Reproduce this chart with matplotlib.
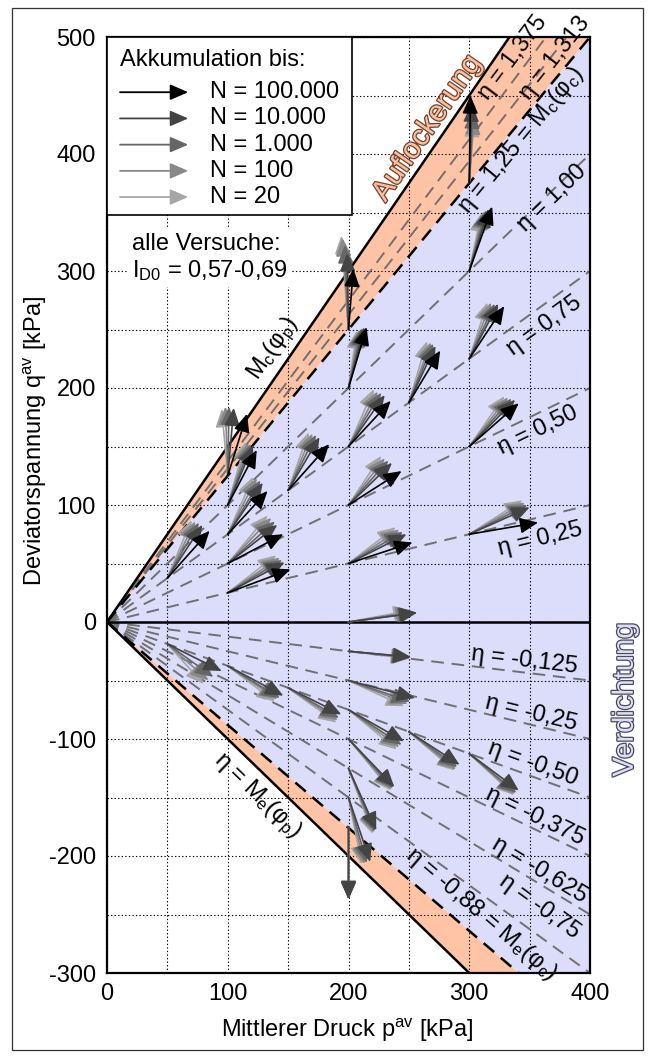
import numpy as np
import matplotlib
matplotlib.use('Agg')
import matplotlib.pyplot as plt
from matplotlib.patches import FancyArrowPatch, Rectangle
from matplotlib.ticker import MultipleLocator
import matplotlib.patheffects as pe

plt.rcParams['font.family'] = ['Liberation Sans', 'DejaVu Sans']
plt.rcParams['mathtext.fontset'] = 'custom'
plt.rcParams['mathtext.rm'] = 'Liberation Sans'
plt.rcParams['mathtext.it'] = 'Liberation Sans:italic'
plt.rcParams['mathtext.bf'] = 'Liberation Sans:bold'
plt.rcParams['axes.unicode_minus'] = False

# ---------------- data ----------------
eta_Mc_phip = 1.5      # solid upper limit
eta_Mc_phic = 1.25     # black dashed
eta_Me_phic = -0.88    # black dashed
eta_Me_phip = -1.0     # solid lower limit
eta_dashed = [1.375, 1.313, 1.0, 0.75, 0.5, 0.25,
              -0.125, -0.25, -0.375, -0.5, -0.625, -0.75]

# start points of accumulation arrows (p_av, q_av)
start_p = [50, 100, 100, 100, 100, 100, 150, 200, 200, 200, 200, 200, 200, 250, 300, 300, 300, 300, 300,
           50, 100, 150, 200, 250, 300, 200, 200, 200, 200, 200, 200]
start_q = [37.5, 25, 50, 75, 100, 125, 112.5, 0, 50, 100, 150, 200, 250, 187.5, 75, 150, 225, 300, 375,
           -18.75, -37.5, -56.25, -75, -93.75, -112.5, -25, -50, -100, -125, -150, -175]

nan = np.nan
# arrow end points for N = 20
end_p_N20 = [70, 140, 133, 121, 115, 95, 167, 252, 239, 227, 221, 207, 194, 265, 344, 329, 315, 310, 303,
             80, 139, 190, 240, 288, 337, 250, 246, 235, 220, 211, 200]
end_q_N20 = [87, 57, 91, 124, 154, 182, 162, 10, 81, 142, 199, 249, 330, 240, 104, 193, 273, 349, 430,
             -53, -68, -86, -109, -127, -148, -31, -72, -144, -181, -207, -236]
# N = 100
end_p_N100 = [73, 143, 136, 124, 117, 98, 170, 254, 242, 230, 224, 209, 195, 268, 346, 332, 318, 312, 304,
              84, 141, 191, 242, 289, 338, 251, 249, 236, 221, 213, 200]
end_q_N100 = [86, 55, 89, 123, 153, 184, 161, 9, 79, 140, 197, 250, 328, 239, 102, 192, 273, 351, 432,
              -50, -66, -84, -107, -126, -147, -31, -70, -143, -180, -207, -237]
# N = 1.000
end_p_N1000 = [76, 145, 139, 127, 119, 101, 173, 256, 245, 233, 227, 211, 197, 270, 348, 335, 321, 314, 303,
               88, 143, 192, 244, 290, 339, 251, 251, 237, 222, 215, 200]
end_q_N1000 = [85, 53, 86, 121, 152, 184, 160, 8, 77, 138, 196, 251, 322, 238, 100, 191, 272, 352, 437,
               -47, -65, -82, -105, -124, -146, -30, -68, -142, -179, -206, -237]
# N = 10.000
end_p_N10000 = [79, 147, 141, 129, 121, 105, 176, 257, 248, 236, 230, 213, 199, 272, 350, 338, 324, 316, 302,
                95, 146, 194, 246, 292, 341, 252, 255, 238, 223, 218, 200]
end_q_N10000 = [83, 51, 83, 119, 151, 183, 158, 8, 75, 136, 194, 252, 315, 236, 98, 190, 272, 353, 443,
                -42, -63, -79, -102, -122, -144, -30, -65, -141, -178, -205, -237]
# N = 100.000 (only reached in part of the tests)
end_p_N100000 = [85, 152, 146, 133, 124, 116, 184, nan, 253, 244, 235, 215, 204, 276, 357, 341, 329, 319, 301,
                 nan, nan, nan, nan, nan, nan, nan, nan, nan, nan, nan, nan]
end_q_N100000 = [78, 45, 75, 112, 147, 178, 152, nan, 68, 129, 189, 252, 302, 232, 85, 187, 270, 355, 450,
                 nan, nan, nan, nan, nan, nan, nan, nan, nan, nan, nan, nan]

N_labels = ['N = 100.000', 'N = 10.000', 'N = 1.000', 'N = 100', 'N = 20']

x_ticks = [0, 100, 200, 300, 400]
y_ticks = [-300, -200, -100, 0, 100, 200, 300, 400, 500]

# line annotations (text, slope of line used for rotation)
eta_texts = ['η = 1,375', 'η = 1,313', 'η = 1,25 = M$_{\\rm c}$(φ$_{\\rm c}$)', 'η = 1,00',
             'η = 0,75', 'η = 0,50', 'η = 0,25', 'M$_{\\rm c}$(φ$_{\\rm p}$)',
             'η = -0,125', 'η = -0,25', 'η = -0,50', 'η = -0,375', 'η = -0,625', 'η = -0,75',
             'η = -0,88 = M$_{\\rm e}$(φ$_{\\rm c}$)', 'η = M$_{\\rm e}$(φ$_{\\rm p}$)']
eta_text_slope = [1.375, 1.313, 1.25, 1.0, 0.75, 0.5, 0.25, 1.5,
                  -0.125, -0.25, -0.375, -0.5, -0.625, -0.75, -0.88, -1.0]
eta_text_p = [336, 371, 343, 369, 362, 357, 359, 138, 346, 351, 353, 354, 358, 358, 310, 124]
eta_text_q = [482, 482, 412, 362, 253, 164, 71, 233, -33, -78, -121, -166, -212, -243, -250, -149]

# ---------------- figure ----------------
W, H = 654, 1059
FS = 17
fig = plt.figure(figsize=(W / 100, H / 100), dpi=100)
ax = fig.add_axes([107 / W, 1 - 973 / H, 483 / W, 936 / H])

orange = '#ffc3a5'
blue = '#dcdcfb'
BIG = 2000

def wedge(e1, e2, color):
    ax.fill([0, BIG, BIG], [0, BIG * e1, BIG * e2], color=color, lw=0, zorder=1)

wedge(eta_Mc_phic, eta_Mc_phip, orange)
wedge(eta_Me_phic, eta_Mc_phic, blue)
wedge(eta_Me_phip, eta_Me_phic, orange)

for e in eta_dashed:
    ax.plot([0, BIG], [0, BIG * e], color='#707070', lw=1.4, dashes=(6.5, 4), zorder=2)
for e in [eta_Mc_phic, eta_Me_phic]:
    ax.plot([0, BIG], [0, BIG * e], color='black', lw=1.8, dashes=(5.5, 3.5), zorder=2.2)
for e in [eta_Mc_phip, eta_Me_phip]:
    ax.plot([0, BIG], [0, BIG * e], color='black', lw=1.8, zorder=2.2)
ax.axhline(0, color='black', lw=1.8, zorder=2.2)

# arrows
ends = [(end_p_N20, end_q_N20), (end_p_N100, end_q_N100), (end_p_N1000, end_q_N1000),
        (end_p_N10000, end_q_N10000), (end_p_N100000, end_q_N100000)]
arrow_colors = ['#a6a6a6', '#888888', '#666666', '#444444', '#000000']
astyle = '-|>,head_length=0.55,head_width=0.24'
for (ep, eq), col in zip(ends, arrow_colors):
    for sp, sq, xp, xq in zip(start_p, start_q, ep, eq):
        if np.isnan(xp):
            continue
        ax.add_patch(FancyArrowPatch((sp, sq), (xp, xq), arrowstyle=astyle, mutation_scale=20,
                                     lw=1.2, color=col, shrinkA=0, shrinkB=0, zorder=5))

ax.set_xlim(0, 400)
ax.set_ylim(-300, 500)
ax.set_xticks(x_ticks)
ax.set_yticks(y_ticks)
ax.xaxis.set_minor_locator(MultipleLocator(50))
ax.yaxis.set_minor_locator(MultipleLocator(50))
ax.set_axisbelow('line')
ax.grid(which='both', color='black', lw=0.8, ls=(0, (1.2, 2)))
ax.tick_params(which='both', length=0, labelsize=FS)
ax.tick_params(axis='x', pad=7)
ax.tick_params(axis='y', pad=8)
for s in ax.spines.values():
    s.set_linewidth(1.6)

ax.text(-0.149, 0.569, 'Deviatorspannung q$^{\\rm av}$ [kPa]', transform=ax.transAxes, rotation=90,
        ha='center', va='center', fontsize=FS)
ax.text(0.497, -0.061, 'Mittlerer Druck p$^{\\rm av}$ [kPa]', transform=ax.transAxes,
        ha='center', va='center', fontsize=FS)

# eta labels
for t, s, px, qy in zip(eta_texts, eta_text_slope, eta_text_p, eta_text_q):
    ax.text(px, qy, t, rotation=np.degrees(np.arctan(s)), transform_rotates_text=True,
            rotation_mode='anchor', ha='center', va='center', fontsize=FS, zorder=7, clip_on=False)

ax.text(265, 422, 'Auflockerung', rotation=np.degrees(np.arctan(eta_Mc_phip)), transform_rotates_text=True,
        rotation_mode='anchor', ha='center', va='center', fontsize=21, color='#ffbf9f', zorder=7,
        path_effects=[pe.Stroke(linewidth=1.8, foreground='#6e4530'), pe.Normal()])
ax.text(1.072, 0.292, 'Verdichtung', transform=ax.transAxes, rotation=90, ha='center', va='center',
        fontsize=21, color=blue, clip_on=False,
        path_effects=[pe.Stroke(linewidth=1.8, foreground='#4a4a5a'), pe.Normal()])

# legend box
ax.add_patch(Rectangle((0, 0.81), 0.507, 0.19, transform=ax.transAxes, fc='white', ec='black',
                       lw=1.2, zorder=8, clip_on=False))
ax.text(0.027, 0.975, 'Akkumulation bis:', transform=ax.transAxes, ha='left', va='center',
        fontsize=FS, zorder=9)
leg_y = [0.941, 0.913, 0.885, 0.857, 0.829]
for y, lab, col in zip(leg_y, N_labels, arrow_colors[::-1]):
    ax.add_patch(FancyArrowPatch((0.027, y), (0.168, y), transform=ax.transAxes, arrowstyle=astyle,
                                 mutation_scale=20, lw=1.3, color=col, shrinkA=0, shrinkB=0, zorder=9))
    ax.text(0.213, y, lab, transform=ax.transAxes, ha='left', va='center', fontsize=FS, zorder=9)

ax.text(0.051, 0.764, 'alle Versuche:\nI$_{\\rm D0}$ = 0,57-0,69', transform=ax.transAxes,
        ha='left', va='center', fontsize=FS, linespacing=1.2, zorder=8,
        bbox=dict(facecolor='white', edgecolor='none', pad=3))

# outer frame
fig.patches.append(Rectangle((12 / W, 1 - 1050 / H), 631 / W, 1042 / H, transform=fig.transFigure,
                             fill=False, ec='#333333', lw=0.9))

fig.savefig('out.png', dpi=100)
